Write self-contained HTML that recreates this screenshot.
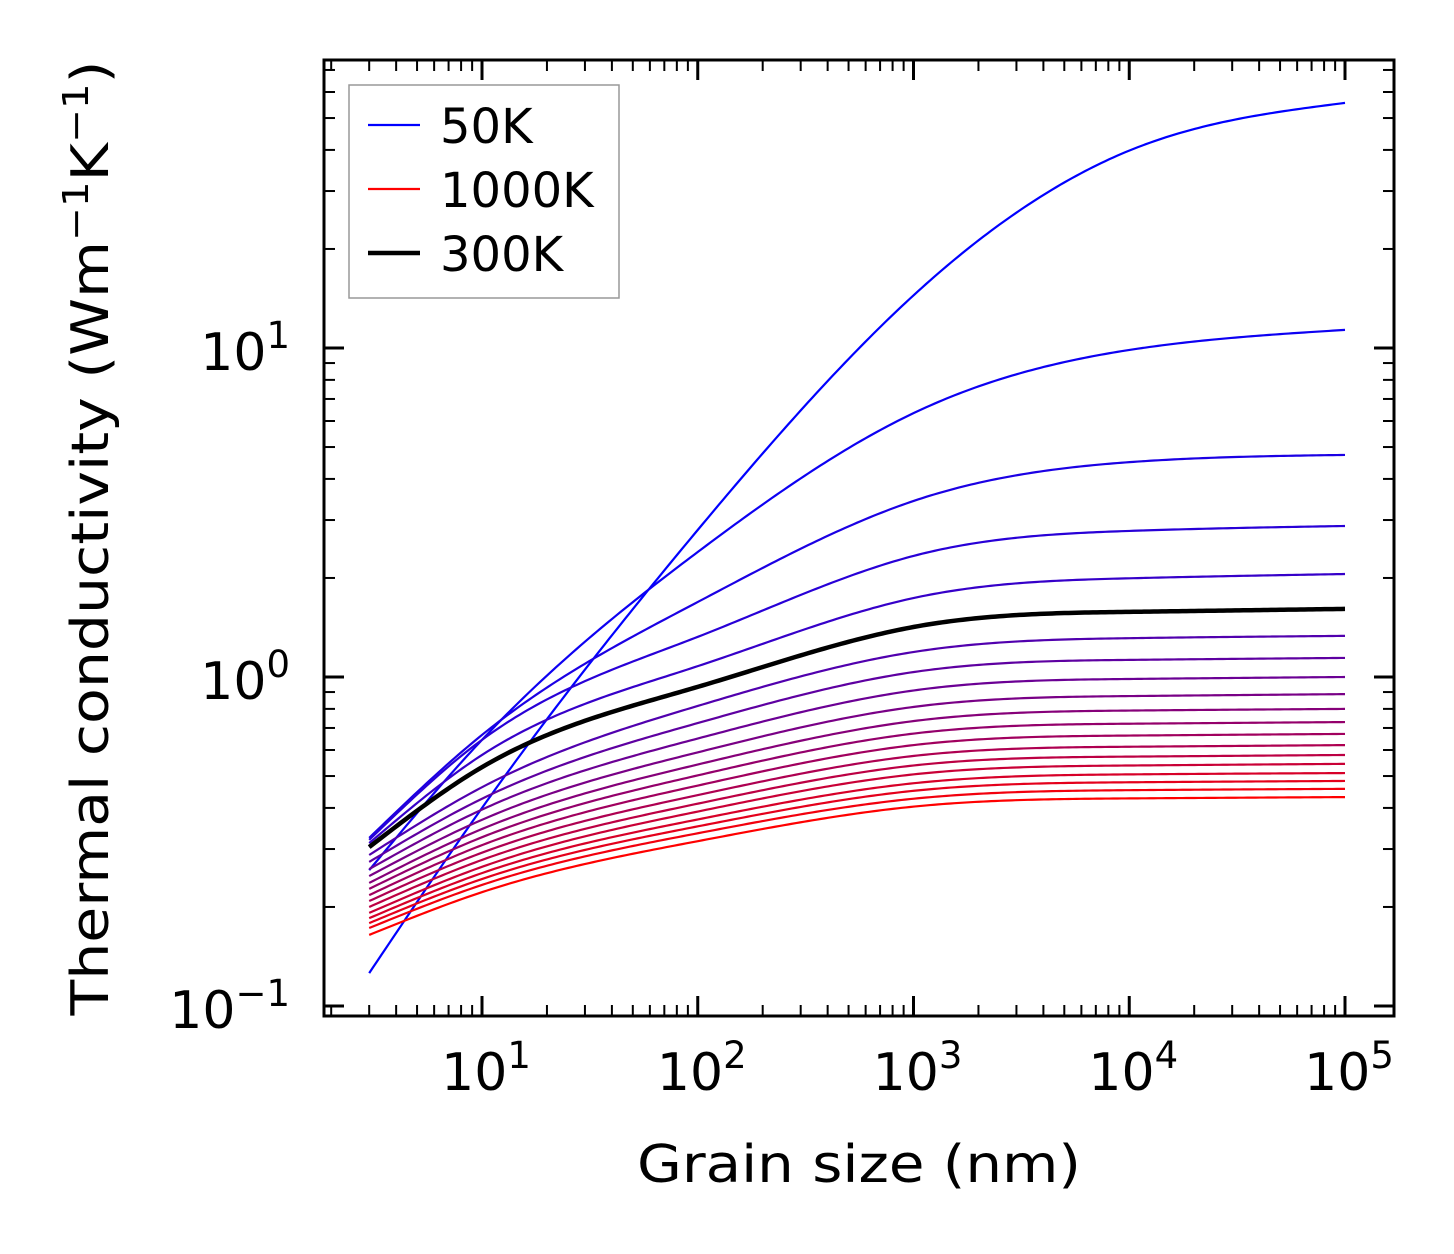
<!DOCTYPE html>
<html><head><meta charset="utf-8">
<style>
html,body{margin:0;padding:0;background:#fff;}
svg{display:block;}
text{font-family:"DejaVu Sans","Liberation Sans",sans-serif;fill:#000;}
</style></head>
<body>
<svg id="chart" width="1454" height="1254" viewBox="0 0 1454 1254" xmlns="http://www.w3.org/2000/svg">
<g id="curves"></g>
<g id="ticks"></g>
<rect x="324" y="60" width="1070" height="956" fill="none" stroke="#000" stroke-width="3"/>
<g id="xlabels"></g>
<g id="ylabels"></g>
<text x="859" y="1182" font-size="52" text-anchor="middle" textLength="444" lengthAdjust="spacingAndGlyphs">Grain size (nm)</text>
<text transform="translate(108,538) rotate(-90)" font-size="52" text-anchor="middle" textLength="955" lengthAdjust="spacingAndGlyphs">Thermal conductivity (Wm<tspan font-size="36" dy="-20">−1</tspan><tspan dy="20">K</tspan><tspan font-size="36" dy="-20">−1</tspan><tspan dy="20">)</tspan></text>
<g>
<rect x="349" y="85" width="270" height="213" fill="#fff" stroke="#999" stroke-width="1.5"/>
<line x1="368" y1="125" x2="420" y2="125" stroke="#0000ff" stroke-width="2.2"/>
<text x="440" y="143" font-size="48">50K</text>
<line x1="368" y1="189" x2="420" y2="189" stroke="#ff0000" stroke-width="2.2"/>
<text x="440" y="207" font-size="48">1000K</text>
<line x1="368" y1="253" x2="420" y2="253" stroke="#000" stroke-width="4.5"/>
<text x="440" y="271" font-size="48">300K</text>
</g>
</svg>
<script>
// Data (log10 of conductivity at each grain size)
const grainSizes = [3, 10, 100, 1000, 10000, 100000];
const temperatures = [50,100,150,200,250,300,350,400,450,500,550,600,650,700,750,800,850,900,950,1000];
const logK50 = [-0.900,-0.398,0.447,1.160,1.600,1.745];
const logK100 = [-0.587,-0.191,0.380,0.802,0.994,1.055];
const logK150 = [-0.489,-0.176,0.228,0.535,0.653,0.675];
const logK200 = [-0.495,-0.191,0.122,0.368,0.444,0.459];
const logK250 = [-0.505,-0.237,0.033,0.240,0.300,0.313];
const logK300 = [-0.517,-0.274,-0.030,0.152,0.198,0.207];
const logK350 = [-0.541,-0.335,-0.088,0.076,0.118,0.125];
const logK400 = [-0.562,-0.370,-0.140,0.015,0.052,0.058];
const logK450 = [-0.584,-0.403,-0.187,-0.041,-0.006,0.000];
const logK500 = [-0.605,-0.434,-0.229,-0.091,-0.058,-0.052];
const logK550 = [-0.626,-0.462,-0.266,-0.134,-0.102,-0.097];
const logK600 = [-0.644,-0.487,-0.299,-0.172,-0.142,-0.137];
const logK650 = [-0.663,-0.511,-0.330,-0.207,-0.178,-0.173];
const logK700 = [-0.681,-0.534,-0.359,-0.240,-0.212,-0.207];
const logK750 = [-0.699,-0.556,-0.385,-0.269,-0.242,-0.237];
const logK800 = [-0.717,-0.577,-0.409,-0.296,-0.269,-0.264];
const logK850 = [-0.733,-0.596,-0.433,-0.323,-0.296,-0.292];
const logK900 = [-0.748,-0.614,-0.454,-0.346,-0.320,-0.316];
const logK950 = [-0.763,-0.632,-0.475,-0.370,-0.344,-0.340];
const logK1000 = [-0.784,-0.654,-0.499,-0.394,-0.369,-0.365];
const xTickLabels = ["1","2","3","4","5"];
const yTickLabels = ["−1","0","1"];

const series = [logK50,logK100,logK150,logK200,logK250,logK300,logK350,logK400,logK450,logK500,logK550,logK600,logK650,logK700,logK750,logK800,logK850,logK900,logK950,logK1000];
const NS="http://www.w3.org/2000/svg";
const X0=482, XD=215.75, Y0=677, YD=329;
function xs(lx){return X0+(lx-1)*XD;}
function ys(ly){return Y0-ly*YD;}

// natural cubic spline
function spline(xv,yv){
  const n=xv.length,h=[],al=[],l=[1],mu=[0],z=[0],c=new Array(n).fill(0),b=[],d=[];
  for(let i=0;i<n-1;i++)h.push(xv[i+1]-xv[i]);
  for(let i=1;i<n-1;i++)al[i]=3/h[i]*(yv[i+1]-yv[i])-3/h[i-1]*(yv[i]-yv[i-1]);
  for(let i=1;i<n-1;i++){l[i]=2*(xv[i+1]-xv[i-1])-h[i-1]*mu[i-1];mu[i]=h[i]/l[i];z[i]=(al[i]-h[i-1]*z[i-1])/l[i];}
  l[n-1]=1;z[n-1]=0;c[n-1]=0;
  for(let j=n-2;j>=0;j--){c[j]=z[j]-mu[j]*c[j+1];b[j]=(yv[j+1]-yv[j])/h[j]-h[j]*(c[j+1]+2*c[j])/3;d[j]=(c[j+1]-c[j])/(3*h[j]);}
  return function(x){
    let i=0;while(i<n-2&&x>xv[i+1])i++;
    const t=x-xv[i];return yv[i]+b[i]*t+c[i]*t*t+d[i]*t*t*t;
  };
}
const lx=grainSizes.map(v=>Math.log10(v));
const cg=document.getElementById('curves');
function drawCurve(vals,color,w,name){
  const f=spline(lx,vals);let d="";
  const N=240;
  for(let k=0;k<=N;k++){const x=lx[0]+(lx[lx.length-1]-lx[0])*k/N;d+=(k?"L":"M")+xs(x).toFixed(2)+","+ys(f(x)).toFixed(2);}
  const p=document.createElementNS(NS,'path');
  p.setAttribute('d',d);p.setAttribute('fill','none');p.setAttribute('stroke',color);p.setAttribute('stroke-width',w);
  
  
  cg.appendChild(p);
}
let blackIdx=-1;
series.forEach((vals,i)=>{
  const t=i/(series.length-1);
  const col="rgb("+Math.round(255*t)+",0,"+Math.round(255*(1-t))+")";
  if(temperatures[i]===300)blackIdx=i;
  drawCurve(vals,col,2.2,'curve-'+temperatures[i]+'k');
});
if(blackIdx>=0)drawCurve(series[blackIdx],'#000',4.5,'curve-300k-highlight');

// ticks
const tg=document.getElementById('ticks');
function line(x1,y1,x2,y2,w,name){
  const l=document.createElementNS(NS,'line');
  l.setAttribute('x1',x1);l.setAttribute('y1',y1);l.setAttribute('x2',x2);l.setAttribute('y2',y2);
  l.setAttribute('stroke','#000');l.setAttribute('stroke-width',w);
  
  
  tg.appendChild(l);
}
const L=324,R=1394,T=60,B=1016;
for(let e=0;e<=5;e++){for(let m=1;m<=9;m++){
  const x=xs(e+Math.log10(m));if(x<L||x>R)continue;
  const len=m===1?20:11,w=m===1?3:2;
  line(x,B,x,B-len,w,'x-tick');line(x,T,x,T+len,w,'x-tick-top');
}}
for(let e=-2;e<=1;e++){for(let m=1;m<=9;m++){
  const y=ys(e+Math.log10(m));if(y<T||y>B)continue;
  const len=m===1?20:11,w=m===1?3:2;
  line(L,y,L+len,y,w,'y-tick');line(R,y,R-len,y,w,'y-tick-right');
}}
// labels
const xl=document.getElementById('xlabels');
xTickLabels.forEach(s=>{
  const t=document.createElementNS(NS,'text');
  t.setAttribute('x',xs(+s)+4);t.setAttribute('y',1090);t.setAttribute('font-size','52');t.setAttribute('text-anchor','middle');
  t.innerHTML='10<tspan font-size="37" dy="-22">'+s+'</tspan>';
  
  
  xl.appendChild(t);
});
const yl=document.getElementById('ylabels');
yTickLabels.forEach(s=>{
  const v=parseFloat(s.replace('−','-'));
  const t=document.createElementNS(NS,'text');
  t.setAttribute('x',290);t.setAttribute('y',ys(v)+22);t.setAttribute('font-size','52');t.setAttribute('text-anchor','end');
  t.innerHTML='10<tspan font-size="37" dy="-22">'+s+'</tspan>';
  
  
  yl.appendChild(t);
});
</script>
</body></html>
